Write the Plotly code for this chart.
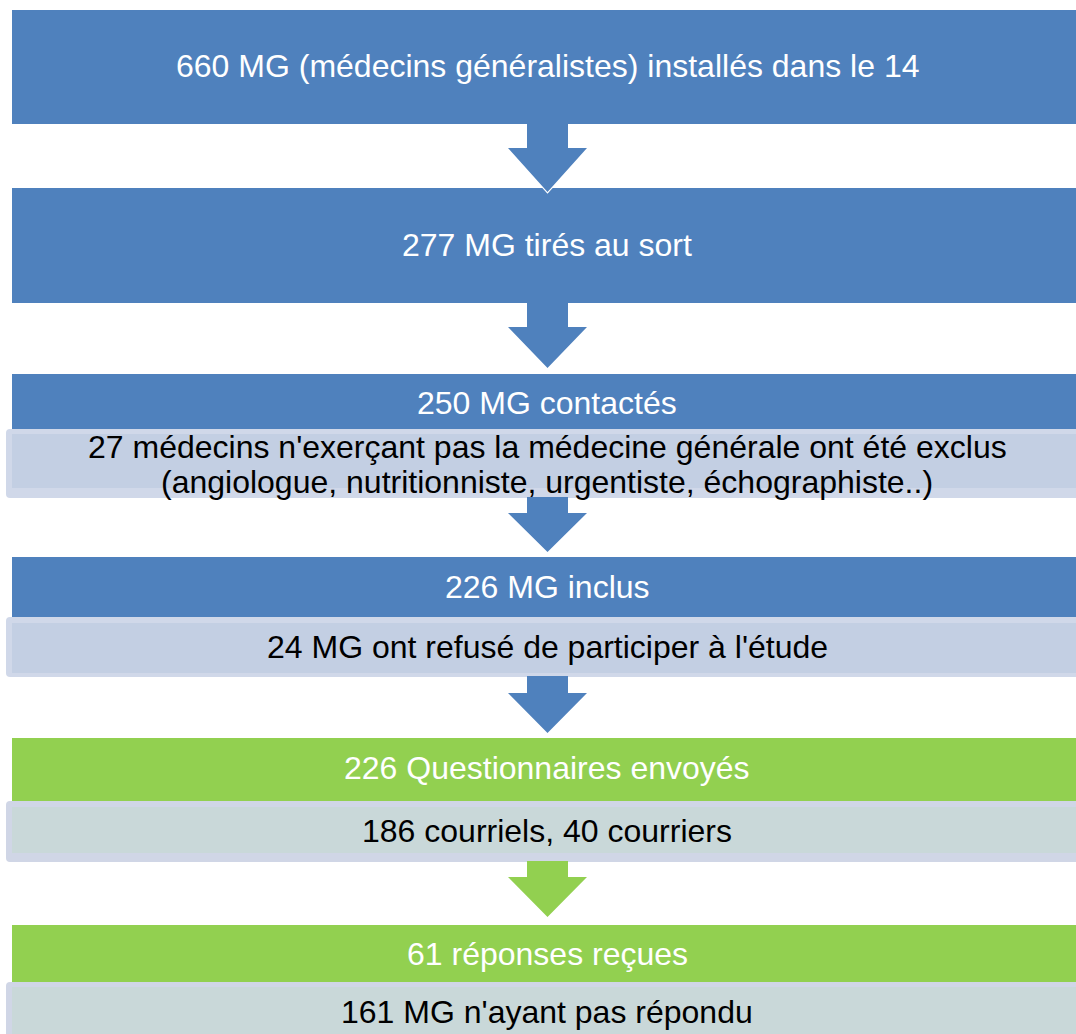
import plotly.graph_objects as go

# ---- content ----
main_labels = [
    "660 MG (médecins généralistes) installés dans le 14",
    "277 MG tirés au sort",
    "250 MG contactés",
    "226 MG inclus",
    "226 Questionnaires envoyés",
    "61 réponses reçues",
]
sub_labels = [
    None,
    None,
    ["27 médecins n'exerçant pas la médecine générale ont été exclus",
     "(angiologue, nutritionniste, urgentiste, échographiste..)"],
    ["24 MG ont refusé de participer à l'étude"],
    ["186 courriels, 40 courriers"],
    ["161 MG n'ayant pas répondu"],
]
stage_groups = ["blue", "blue", "blue", "blue", "green", "green"]

# ---- layout geometry (pixels, y downward) ----
W, H = 1076, 1034
X0, X1 = 12, 1076
XC = 547
main_boxes = [(10, 124), (188, 303), (374, 429), (557, 617), (738, 801), (925, 982)]
main_text_y = [66, 245, 403, 587, 768, 954]
sub_boxes = {2: (429, 498, 434, 488), 3: (617, 677, 623, 673),
             4: (801, 862, 807, 853), 5: (982, 1050, 987, 1050)}
sub_text_y = {2: [447, 482], 3: [647], 4: [831], 5: [1012]}
arrows = [(124, 148, 192), (303, 327, 368), (497, 513, 552), (676, 693, 733), (861, 877, 917)]
arrow_groups = ["blue", "blue", "blue", "blue", "green"]

colors = {
    "blue": dict(main="#4f81bd", sub_outer="#d0d8e9", sub_inner="#c3cfe3"),
    "green": dict(main="#92d050", sub_outer="#d0d6e6", sub_inner="#c9d8d9"),
}

FONT = "Liberation Sans, Arial, sans-serif"
FS = 32

shapes = []
annotations = []

for i, (label, (y0, y1)) in enumerate(zip(main_labels, main_boxes)):
    c = colors[stage_groups[i]]
    shapes.append(dict(type="rect", xref="x", yref="y", x0=X0, x1=X1 + 10, y0=y0, y1=y1,
                       fillcolor=c["main"], line=dict(width=0), layer="below"))
    annotations.append(dict(x=XC, y=main_text_y[i], xref="x", yref="y",
                            text=label, showarrow=False,
                            font=dict(family=FONT, size=FS, color="white")))
    if sub_labels[i] is not None:
        oy0, oy1, iy0, iy1 = sub_boxes[i]
        shapes.append(dict(type="path", xref="x", yref="y",
                           path=f"M 10,{oy0} L {X1+10},{oy0} L {X1+10},{oy1} L 10,{oy1} Q 6,{oy1} 6,{oy1-4} L 6,{oy0+4} Q 6,{oy0} 10,{oy0} Z",
                           fillcolor=c["sub_outer"], line=dict(width=0), layer="below"))
        shapes.append(dict(type="rect", xref="x", yref="y", x0=X0, x1=X1 + 10, y0=iy0, y1=iy1,
                           fillcolor=c["sub_inner"], line=dict(width=0), layer="below"))
        for line, ty in zip(sub_labels[i], sub_text_y[i]):
            annotations.append(dict(x=XC, y=ty, xref="x", yref="y",
                                    text=line, showarrow=False,
                                    font=dict(family=FONT, size=FS, color="black")))

for (s, h, t), g in zip(arrows, arrow_groups):
    c = colors[g]["main"]
    path = (f"M 527,{s} L 568,{s} L 568,{h} L 587,{h} L 547.5,{t} "
            f"L 508,{h} L 527,{h} Z")
    # thin white halo on the sides and head only
    halo = (f"M 527,{s+1} L 527,{h} L 508,{h} L 547.5,{t} L 587,{h} L 568,{h} L 568,{s+1}")
    shapes.append(dict(type="path", xref="x", yref="y", path=halo,
                       fillcolor="rgba(0,0,0,0)", line=dict(color="white", width=2.5), layer="above"))
    shapes.append(dict(type="path", xref="x", yref="y", path=path,
                       fillcolor=c, line=dict(width=0), layer="above"))

fig = go.Figure()
fig.add_trace(go.Scatter(x=[0], y=[0], mode="markers", marker=dict(opacity=0),
                         hoverinfo="skip", showlegend=False))
fig.update_layout(
    width=W, height=H,
    margin=dict(l=0, r=0, t=0, b=0),
    paper_bgcolor="white", plot_bgcolor="white",
    xaxis=dict(range=[0, W], visible=False, fixedrange=True),
    yaxis=dict(range=[H, 0], visible=False, fixedrange=True),
    shapes=shapes, annotations=annotations,
    showlegend=False,
)
fig.write_html("out.html", config={"displayModeBar": False},
               post_script="document.body.style.margin='0';document.body.style.overflow='hidden';")
